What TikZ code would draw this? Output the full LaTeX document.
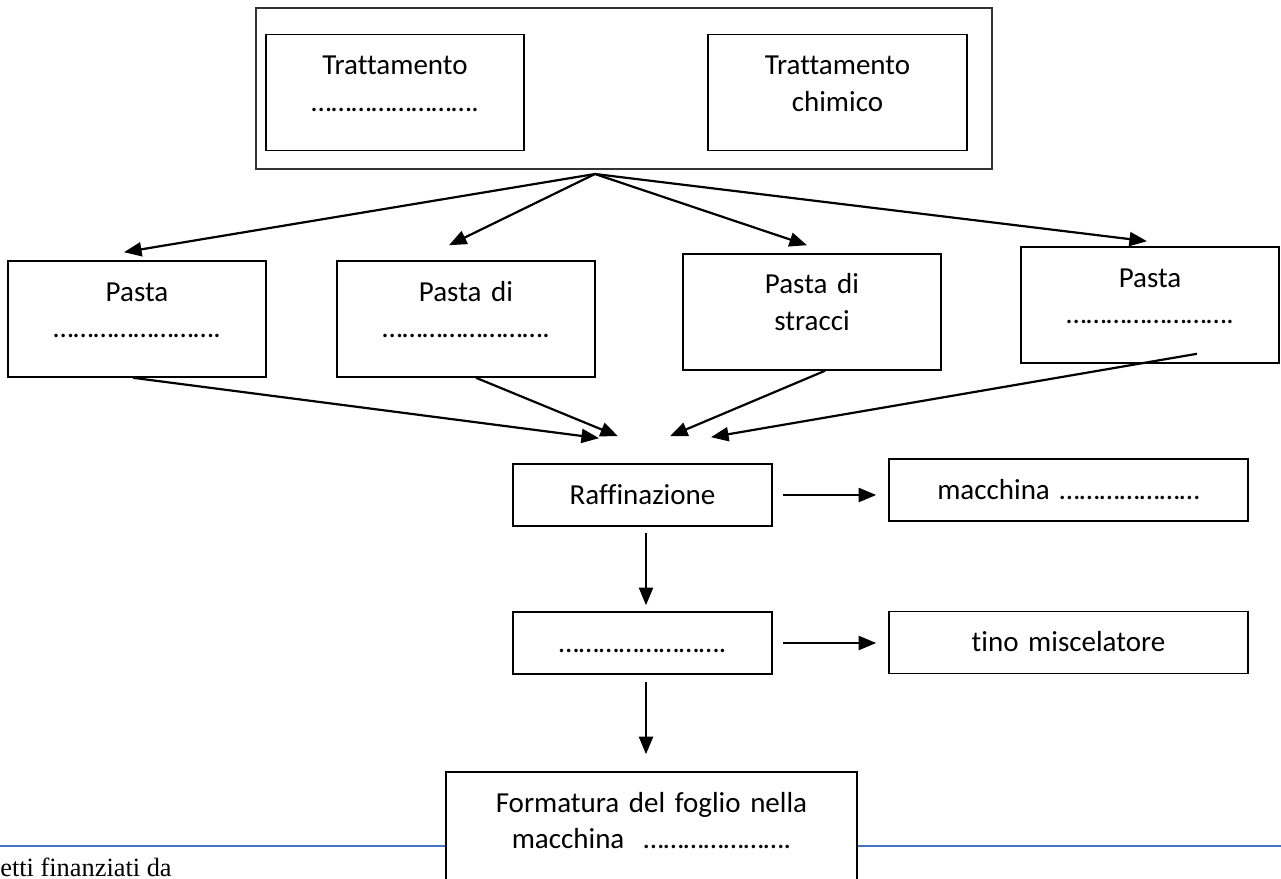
\documentclass[tikz,border=0pt]{standalone}
\usepackage{fontspec}
\setmainfont{Carlito}[Ligatures=CommonOff]
\newfontfamily\footfont{Liberation Serif}
\usetikzlibrary{arrows.meta}
\definecolor{lineblue}{HTML}{4472C4}
\newcommand{\tre}{…}% one ellipsis
\newcommand{\riga}{\tre\tre\tre\tre\tre\tre\tre\tre.}% blank to fill in

\begin{document}
\begin{tikzpicture}[font=\fontsize{16.5}{21}\selectfont,
	box/.style={draw, line width=0.9pt, fill=white, inner sep=0pt, align=center, text height=0.8cm},
	tall/.style={box, text width=5.16cm, text depth=1.52cm},
	flat/.style={box, text depth=0.44cm},
	arr/.style={line width=1.25pt, -{Triangle[length=10pt,width=8pt]}}]
		\useasboundingbox (0,0) rectangle (25.62,-17.58);
		\clip (0,0) rectangle (25.62,-17.58);
		\coordinate (apex) at (11.90,-3.48);%fan
		\draw [lineblue, line width=1.1pt] (0,-16.92)--(25.62,-16.92);
		
		\node [draw=black!80, line width=0.7pt, minimum width=14.72cm, minimum height=3.22cm] (tratt) at (12.48,-1.77) {};
		\node [tall] (mecc) at (7.90,-1.85) {Trattamento\\\riga};
		\node [tall, text width=5.18cm] (chim) at (16.75,-1.85) {Trattamento\\chimico};
		
		\node [tall] (pasta1) at (2.74,-6.38) {Pasta\\\riga};
		\node [tall] (pasta2) at (9.32,-6.38) {Pasta di\\\riga};
		\node [tall] (stracci) at (16.24,-6.24) {Pasta di\\stracci};
		\node [tall] (pasta4) at (23.00,-6.10) {Pasta\\\riga};
		
		\node [flat, text width=5.18cm] (raff) at (12.85,-9.90) {Raffinazione};
		\node [flat, text width=7.18cm] (macch) at (21.37,-9.80) {macchina \tre\tre\tre\tre\tre\tre\tre};
		\node [flat, text width=5.18cm] (vuoto) at (12.85,-12.86) {\riga};
		\node [flat, text width=7.18cm] (tino) at (21.37,-12.85) {tino miscelatore};
		\node [box, text width=8.22cm, text depth=1.6cm] (form) at (13.03,-16.64) {Formatura del foglio nella\\macchina\ \ \tre\tre\tre\tre\tre\tre\tre.};
		\node [anchor=base west, inner sep=0pt, font=\footfont\fontsize{15}{18}\selectfont] (foot) at (0,-17.52) {etti finanziati da};
		
		\draw [arr] (apex)--([xshift=-0.26cm,yshift=0.16cm]pasta1.north);
		\draw [arr] (apex)--([xshift=-0.34cm,yshift=0.30cm]pasta2.north);
		\draw [arr] (apex)--([xshift=-0.10cm,yshift=0.16cm]stracci.north);
		\draw [arr] (apex)--([xshift=-0.06cm,yshift=0.10cm]pasta4.north);
		
		\draw [arr] ([xshift=-0.08cm]pasta1.south)--([xshift=-0.87cm,yshift=0.50cm]raff.north);
		\draw [arr] ([xshift=0.20cm]pasta2.south)--([xshift=-0.49cm,yshift=0.54cm]raff.north);
		\draw [arr] ([xshift=0.26cm]stracci.south)--([xshift=0.55cm,yshift=0.54cm]raff.north);
		\draw [arr] ([xshift=0.94cm,yshift=0.20cm]pasta4.south)--([xshift=1.37cm,yshift=0.52cm]raff.north);
		
		\draw [arr, shorten <=0.2cm, shorten >=0.24cm] (raff.east)--(macch.west |- raff.east);
		\draw [arr, shorten <=0.2cm, shorten >=0.24cm] (vuoto.east)--(tino.west |- vuoto.east);
		\draw [arr, shorten <=0.12cm, shorten >=0.12cm] ([xshift=0.07cm]raff.south)--([xshift=0.07cm]vuoto.north);
		\draw [arr, shorten <=0.14cm, shorten >=0.34cm] ([xshift=0.07cm]vuoto.south)--([xshift=0.07cm]vuoto.south |- form.north);
		\end{tikzpicture}
\end{document}
